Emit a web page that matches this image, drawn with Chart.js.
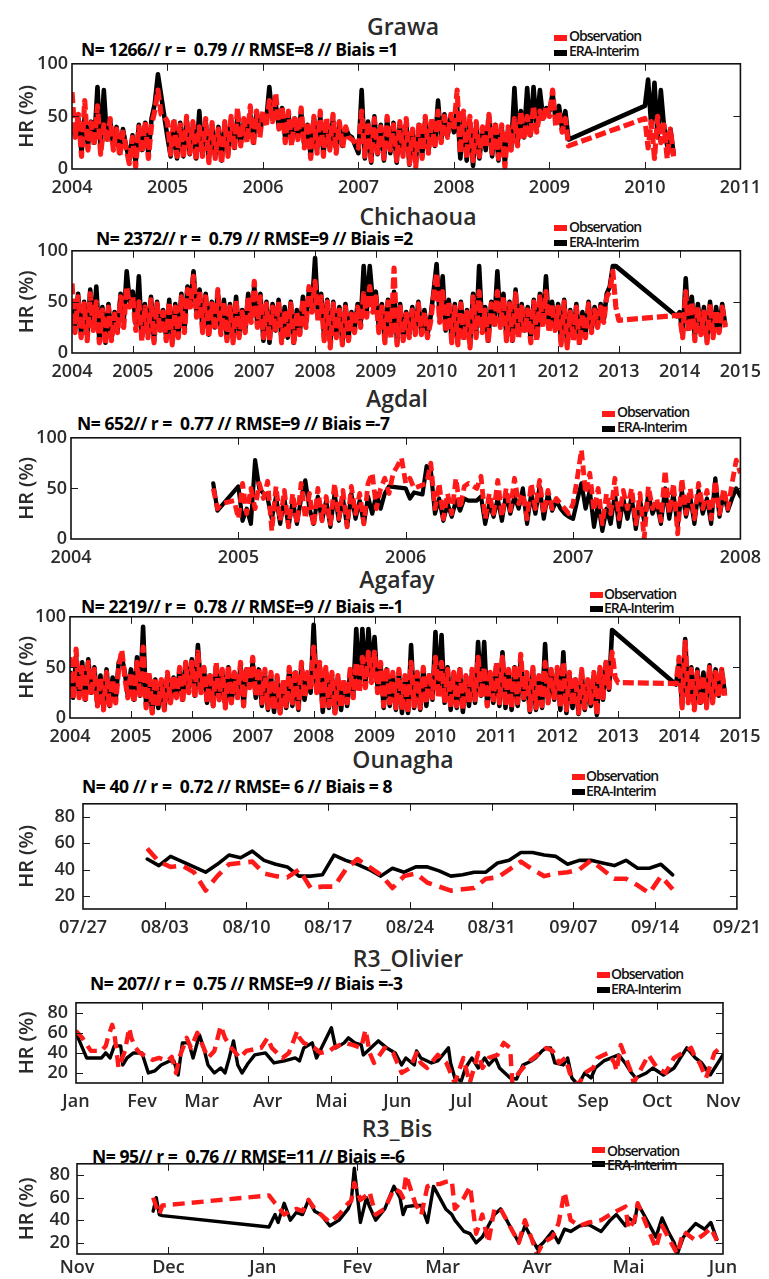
<!DOCTYPE html>
<html><head><meta charset="utf-8">
<script src="https://cdn.jsdelivr.net/npm/chart.js@4.4.1/dist/chart.umd.min.js"></script>
<style>
html,body{margin:0;padding:0;background:#fff;}
#wrap{position:relative;width:769px;height:1279px;overflow:hidden;font-family:'Open Sans',sans-serif;color:#262626;}
canvas{position:absolute;left:0;}
.ttl{position:absolute;font-size:23px;font-weight:600;transform:translateX(-50%);white-space:pre;line-height:1;color:#2b2b2b;}
.st{position:absolute;font-size:17.5px;font-weight:700;white-space:pre;line-height:1;letter-spacing:-0.45px;color:#000;}
.lg{position:absolute;font-size:14px;font-weight:600;white-space:pre;line-height:1;letter-spacing:-1px;color:#111;}
.mk{position:absolute;width:13px;height:6px;}
</style></head>
<body><div id="wrap">
<div class="ttl" style="left:403px;top:15px">Grawa</div>
<div class="st" style="left:81px;top:41px">N= 1266// r =  0.79 // RMSE=8 // Biais =1</div>
<div class="mk" style="left:554px;top:35px;background:#ff1a1a"></div><div class="lg" style="left:569px;top:29px">Observation</div>
<div class="mk" style="left:554px;top:50px;background:#000"></div><div class="lg" style="left:569px;top:44px">ERA-Interim</div>

<div class="ttl" style="left:418px;top:205px">Chichaoua</div>
<div class="st" style="left:96px;top:230px">N= 2372// r =  0.79 // RMSE=9 // Biais =2</div>
<div class="mk" style="left:554px;top:225px;background:#ff1a1a"></div><div class="lg" style="left:569px;top:220px">Observation</div>
<div class="mk" style="left:554px;top:240px;background:#000"></div><div class="lg" style="left:569px;top:235px">ERA-Interim</div>

<div class="ttl" style="left:397px;top:387px">Agdal</div>
<div class="st" style="left:77px;top:415px">N= 652// r =  0.77 // RMSE=9 // Biais =-7</div>
<div class="mk" style="left:602px;top:411px;background:#ff1a1a"></div><div class="lg" style="left:617px;top:405px">Observation</div>
<div class="mk" style="left:602px;top:426px;background:#000"></div><div class="lg" style="left:617px;top:420px">ERA-Interim</div>

<div class="ttl" style="left:397px;top:568px">Agafay</div>
<div class="st" style="left:81px;top:598px">N= 2219// r =  0.78 // RMSE=9 // Biais =-1</div>
<div class="mk" style="left:590px;top:592px;background:#ff1a1a"></div><div class="lg" style="left:604px;top:587px">Observation</div>
<div class="mk" style="left:590px;top:606px;background:#000"></div><div class="lg" style="left:604px;top:601px">ERA-Interim</div>

<div class="ttl" style="left:403px;top:748px">Ounagha</div>
<div class="st" style="left:82px;top:778px">N= 40 // r =  0.72 // RMSE= 6 // Biais = 8</div>
<div class="mk" style="left:572px;top:774px;background:#ff1a1a"></div><div class="lg" style="left:586px;top:769px">Observation</div>
<div class="mk" style="left:572px;top:789px;background:#000"></div><div class="lg" style="left:586px;top:784px">ERA-Interim</div>

<div class="ttl" style="left:408px;top:947px">R3_Olivier</div>
<div class="st" style="left:90px;top:975px">N= 207// r =  0.75 // RMSE=9 // Biais =-3</div>
<div class="mk" style="left:597px;top:972px;background:#ff1a1a"></div><div class="lg" style="left:611px;top:967px">Observation</div>
<div class="mk" style="left:597px;top:987px;background:#000"></div><div class="lg" style="left:611px;top:982px">ERA-Interim</div>

<div class="ttl" style="left:397px;top:1117px">R3_Bis</div>
<div class="st" style="left:92px;top:1148px">N= 95// r =  0.76 // RMSE=11 // Biais =-6</div>
<div class="mk" style="left:592px;top:1147px;background:#ff1a1a"></div><div class="lg" style="left:607px;top:1144px">Observation</div>
<div class="mk" style="left:592px;top:1161px;background:#000"></div><div class="lg" style="left:607px;top:1158px">ERA-Interim</div>
</div>
<script>
// ---------------- DATA ----------------
// Grawa: samples every 1/30 year from 2004.0
const grawaStart = 2004, grawaRate = 30;
const grawaObs = [
73,30,52,12,65,18,44,22,60,14,42,25,48,18,38,12,35,20,5,30,2,40,15,45,10,42,55,75,52,50,
45,14,48,12,42,10,50,15,45,8,40,12,48,6,44,10,38,5,45,12,50,18,58,22,48,25,60,22,55,30,
55,40,65,45,72,38,60,25,55,22,50,28,58,20,45,10,50,15,55,12,48,18,52,15,45,20,40,30,28,25,
20,55,12,45,8,48,15,40,10,50,18,42,8,45,12,48,5,38,2,44,10,50,15,48,20,55,25,50,30,52,
40,75,15,55,10,50,8,45,12,40,20,52,15,45,10,42,2,40,18,48,22,55,28,50,30,60,35,55,45,60,
50,75,40,55,35,48,22,null,null,null,null,null,null,null,null,null,null,null,null,null,null,null,null,null,null,null,null,null,null,null,
48,20,45,10,50,25,42,10,38,12];
const grawaEra = [
40,32,48,15,50,22,45,25,78,20,75,28,45,22,40,15,38,22,8,32,6,42,18,44,14,48,62,90,null,null,
30,12,45,10,44,12,48,14,42,10,55,14,46,8,42,12,40,8,44,14,48,20,50,24,45,28,52,25,55,35,
50,45,78,48,62,40,58,28,52,25,48,30,55,22,42,12,48,18,50,14,45,20,48,18,42,22,38,32,30,22,
15,75,10,45,6,50,14,42,8,48,15,44,6,42,14,45,4,36,6,42,12,48,18,45,22,65,28,52,32,50,
35,60,10,50,8,45,3,42,10,38,18,50,12,42,8,40,6,38,20,77,25,55,30,77,32,78,40,75,48,58,
55,72,45,60,38,55,28,null,null,null,null,null,null,null,null,null,null,null,null,null,null,null,null,null,null,null,null,null,null,null,
60,85,40,82,30,75,40,22,38,15];

// Chichaoua: samples every 1/20 year from 2004.0
const chiStart = 2004, chiRate = 20;
const chiObs = [
68,20,55,15,48,12,58,22,50,10,42,8,45,12,38,20,55,25,65,45,
55,22,50,12,45,15,52,10,48,20,40,12,50,8,45,15,55,20,62,45,
75,35,60,20,55,15,48,22,62,18,50,12,45,10,52,15,40,20,55,30,
70,25,55,15,48,12,45,20,50,10,42,15,48,8,40,18,52,25,65,40,
70,30,55,12,50,5,48,15,42,8,45,12,38,20,45,25,58,35,65,40,
55,20,45,10,50,15,83,8,45,12,38,15,42,18,48,18,40,15,30,55,
78,30,60,20,50,10,45,8,48,12,40,5,55,15,60,20,42,10,48,25,
60,25,55,12,48,10,58,15,45,20,42,10,50,12,55,25,60,20,48,22,
45,8,50,5,40,12,45,8,38,15,48,20,42,25,45,30,55,60,80,45,
32,null,null,null,null,null,null,null,null,null,null,null,null,null,null,null,null,null,null,null,
37,15,60,20,50,12,45,18,40,10,48,15,42,20,45,25];
const chiEra = [
45,25,58,18,50,15,62,25,65,12,45,10,48,15,40,22,58,30,80,50,
60,28,75,15,48,18,55,12,50,22,42,15,52,10,48,18,58,22,65,50,
80,40,62,22,58,18,50,25,60,20,52,14,48,12,55,18,42,22,58,35,
65,28,58,12,50,10,48,22,52,12,45,15,50,10,42,20,55,28,62,45,
93,35,58,15,52,8,50,18,45,10,48,15,40,22,48,28,85,40,85,50,
60,25,48,12,52,18,60,10,48,15,40,18,45,20,50,20,42,18,35,60,
87,35,75,22,52,12,48,10,50,15,42,8,58,18,85,25,45,12,50,28,
80,30,58,15,50,12,62,18,48,22,45,12,52,15,58,30,75,25,50,25,
48,10,52,8,42,15,48,10,40,18,50,22,45,28,48,32,58,65,85,85,
null,null,null,null,null,null,null,null,null,null,null,null,null,null,null,null,null,null,null,36,
40,18,73,25,55,15,48,20,45,12,50,18,45,22,48,28];

// Agdal: samples every 1/40 year from 2004.85
const agdalStart = 2004.85, agdalRate = 40;
const agdalObs = [
50,30,35,36,37,38,20,55,25,50,30,55,40,57,8,52,18,48,12,45,
15,55,20,45,12,50,18,42,15,55,20,48,12,52,25,45,15,55,65,30,
50,60,45,65,72,80,55,60,50,null,null,55,75,30,55,20,45,25,60,30,
52,55,null,50,62,20,45,25,58,22,50,28,60,35,45,20,55,30,58,25,
48,30,40,35,30,25,35,60,88,45,65,28,50,15,45,25,60,20,48,30,
50,15,45,0,52,30,40,18,68,25,55,5,60,25,50,20,55,30,48,20,
58,25,50,30,55,78,65];
const agdalEra = [
55,28,null,null,null,null,52,18,30,15,78,50,45,40,20,42,15,40,12,38,
15,40,58,30,15,42,18,38,12,45,18,40,12,45,20,38,15,42,25,45,
30,45,52,null,null,null,50,40,46,null,44,72,68,25,40,18,35,22,38,28,
40,38,null,38,42,15,35,22,40,18,45,25,42,30,50,15,45,25,52,20,
45,28,38,30,25,22,20,38,55,30,48,12,35,8,30,15,45,12,40,20,
42,10,38,18,45,25,35,15,50,20,45,12,48,22,42,15,48,25,40,15,
60,22,45,28,40,50,42];

// Agafay: samples every 1/20 year from 2004.0
const agaStart = 2004, agaRate = 20;
const agaObs = [
60,18,68,20,50,15,55,22,48,12,40,8,45,10,38,15,50,67,40,20,
45,15,55,20,70,10,45,5,40,12,38,8,45,15,42,20,50,15,55,25,
55,20,65,25,50,15,45,12,55,18,48,10,52,15,45,20,55,12,50,30,
60,22,50,15,48,10,45,8,42,5,38,12,50,15,48,10,55,20,45,28,
70,25,55,8,50,12,45,5,42,10,38,15,48,20,55,25,60,30,65,35,
65,25,55,12,50,15,45,10,48,8,42,5,55,12,45,10,50,15,45,20,
60,20,55,15,48,10,45,12,50,8,42,15,48,18,60,20,50,12,45,18,
55,15,60,12,48,10,52,15,63,20,45,8,50,10,42,12,55,15,48,20,
50,10,55,8,45,12,40,5,48,10,38,15,45,3,50,20,55,30,65,40,
35,null,null,null,null,null,null,null,null,null,null,null,null,null,null,null,null,null,null,34,
60,10,75,15,48,8,45,12,42,10,50,15,45,20,48,22];
const agaEra = [
45,20,60,22,55,18,58,25,50,12,42,10,48,12,40,18,55,60,45,22,
48,18,60,22,90,12,42,5,38,10,35,8,42,15,40,22,48,18,55,28,
58,22,72,28,48,15,42,12,52,20,45,10,50,15,42,20,52,12,48,32,
55,20,48,12,45,8,42,6,40,5,35,10,48,12,45,8,52,18,42,25,
92,28,52,6,48,10,42,5,40,8,35,12,45,22,88,30,88,35,88,45,
80,30,52,10,48,12,42,8,45,5,40,5,72,10,45,8,48,12,42,18,
85,25,82,15,50,8,42,10,48,6,40,12,45,15,75,22,75,12,42,15,
52,12,65,10,45,8,50,12,58,18,42,6,48,8,40,10,73,15,45,18,
48,8,65,5,42,10,38,4,45,8,35,12,42,3,48,18,55,28,87,null,
null,null,null,null,null,null,null,null,null,null,null,null,null,null,null,null,null,null,null,33,
55,12,78,18,50,10,48,15,45,12,52,18,48,22,48,25];

// Ounagha: day offsets from 07/27 (daily values, mid-day)
const ounDays = [5.5,6.5,7.5,8.5,9.5,10.5,11.5,12.5,13.5,14.5,15.5,16.5,17.5,18.5,19.5,20.5,21.5,22.5,23.5,24.5,25.5,26.5,27.5,28.5,29.5,30.5,31.5,32.5,33.5,34.5,35.5,36.5,37.5,38.5,39.5,40.5,41.5,42.5,43.5,44.5,45.5,46.5,47.5,48.5,49.5,50.5];
const ounObs = [56,46,42,43,38,24,35,44,45,46,37,35,34,40,26,27,27,40,48,42,36,26,35,37,30,27,24,25,26,33,34,40,46,40,35,37,38,40,47,40,33,33,28,22,35,25];
const ounEra = [48,43,50,46,42,38,44,51,49,54,47,44,42,35,35,36,51,47,44,40,35,41,38,42,42,39,35,36,38,38,45,47,53,53,51,50,44,47,47,45,43,47,41,41,44,36];
const ounTickLabels = ['07/27','08/03','08/10','08/17','08/24','08/31','09/07','09/14','09/21'];

// R3_Olivier: day offsets from Jan 1
const olivEraDays = [0,5,9,12,14,16,18,21,22,24,27,31,34,37,40,44,46,48,50,53,55,58,60,62,65,68,70,72,74,76,78,81,84,89,93,98,103,105,107,111,113,120,122,126,128,131,134,135,142,146,150,153,155,159,160,162,167,170,175,176,178,181,183,186,189,192,194,197,199,204,207,210,214,216,219,221,223,225,229,231,233,236,239,242,244,248,255,258,261,263,268,271,276,281,284,287,291,294,298,304];
const olivEra = [60,35,35,35,40,35,47,47,28,35,40,40,20,22,28,32,32,18,50,50,35,58,45,28,20,25,20,35,52,28,20,30,38,40,30,32,35,32,45,50,35,65,45,50,55,50,48,38,52,45,40,28,35,28,42,35,30,32,45,30,15,12,25,35,25,35,28,35,25,15,14,28,32,35,42,45,45,30,28,35,15,8,20,15,25,32,38,30,20,15,20,25,18,25,35,45,35,30,18,38];
const olivObsDays = [0,3,7,12,14,15,17,18,20,23,25,26,28,30,36,39,43,45,47,49,52,54,57,59,62,65,68,70,73,77,80,87,90,92,97,100,104,105,107,112,115,119,121,126,130,134,136,137,138,140,145,149,151,153,157,160,162,165,170,174,178,182,185,189,191,194,198,201,204,205,208,212,215,218,221,224,227,230,232,235,236,239,243,245,250,253,254,256,261,262,269,273,277,281,285,289,291,293,296,300,304];
const olivObs = [62,55,42,42,47,55,68,60,25,42,65,55,45,40,33,35,32,36,20,38,55,45,60,50,35,42,67,55,45,35,42,45,55,45,35,40,62,55,50,45,40,42,45,50,48,45,63,52,40,30,45,40,30,20,25,40,30,25,38,30,10,35,10,40,25,35,38,50,45,10,20,30,35,40,45,42,30,35,20,10,8,20,25,35,40,30,22,48,20,10,38,25,20,35,40,45,35,30,15,40,48];
const olivMonthDays = [0,31,59,90,120,151,181,212,243,273,304];
const olivMonthLabels = ['Jan','Fev','Mar','Avr','Mai','Jun','Jul','Aout','Sep','Oct','Nov'];

// R3_Bis: day offsets from Nov 1
const bisDays = [25,26,27,28,63,65,66,68,70,72,74,76,78,80,83,86,89,90,91,93,95,96,98,101,104,106,107,108,111,113,115,117,119,121,123,124,127,129,131,133,135,137,139,141,143,145,147,149,151,153,156,158,160,162,165,168,172,175,177,180,181,183,184,187,190,192,194,196,197,199,203,206,208,210];
const bisEra = [48,60,45,44,34,45,38,55,40,47,45,58,48,45,35,40,50,57,86,38,60,52,40,50,70,60,45,52,53,53,38,70,60,50,45,40,30,28,20,25,35,45,50,40,30,20,35,25,15,20,30,20,32,30,35,36,30,40,45,35,42,38,55,40,25,42,30,20,10,25,37,32,38,23];
const bisObs = [60,52,45,53,62,55,52,45,48,50,48,58,50,45,38,45,55,57,73,58,62,65,45,50,68,65,60,80,55,45,70,72,72,74,75,50,60,70,28,45,20,50,50,40,30,20,40,25,10,20,25,37,65,40,35,38,40,45,48,52,32,40,55,35,15,35,25,15,10,30,22,28,33,22];
const bisMonthDays = [0,30,61,92,120,151,181,212];
const bisMonthLabels = ['Nov','Dec','Jan','Fev','Mar','Avr','Mai','Jun'];

const yTicksSmall = [20,40,60,80];

// ---------------- RENDER ----------------
const RED = '#ff1a1a';
const FONT = "'Open Sans', sans-serif";
const sampled = (start, rate, vals) => vals.map((v, i) => ({x: start + i / rate, y: v}));
const paired = (xs, vals) => vals.map((v, i) => ({x: xs[i], y: v}));

const framePlugin = {
  id: 'frame',
  afterDatasetsDraw(chart) {
    const {ctx, chartArea: a, scales: {x, y}} = chart;
    ctx.save();
    ctx.strokeStyle = '#1a1a1a';
    ctx.lineWidth = 1;
    const seg = (x1, y1, x2, y2) => { ctx.beginPath(); ctx.moveTo(x1, y1); ctx.lineTo(x2, y2); ctx.stroke(); };
    const tl = 7;
    x.ticks.forEach(t => {
      const px = Math.round(x.getPixelForValue(t.value)) + 0.5;
      if (px <= a.left + 2 || px >= a.right - 2) return;
      seg(px, a.bottom, px, a.bottom - tl); seg(px, a.top, px, a.top + tl);
    });
    y.ticks.forEach(t => {
      const py = Math.round(y.getPixelForValue(t.value)) + 0.5;
      if (py <= a.top + 2 || py >= a.bottom - 2) return;
      seg(a.left, py, a.left + tl, py); seg(a.right, py, a.right - tl, py);
    });
    ctx.lineWidth = 1.6;
    ctx.strokeStyle = '#111';
    ctx.strokeRect(a.left, a.top, a.right - a.left, a.bottom - a.top);
    ctx.restore();
  }
};

function makePanel(p) {
  const padTop = 14, axisH = 34;
  const cv = document.createElement('canvas');
  const h = p.B - p.T + padTop + axisH;
  cv.width = 769; cv.height = h;
  cv.style.top = (p.T - padTop) + 'px';
  cv.style.width = '769px'; cv.style.height = h + 'px';
  document.getElementById('wrap').appendChild(cv);
  const tickFont = {family: FONT, size: 18, weight: '600'};
  new Chart(cv, {
    type: 'line',
    data: {datasets: [
      {data: p.obs, borderColor: RED, borderWidth: p.rw, borderDash: p.dash, borderCapStyle: 'butt', borderJoinStyle: 'round', pointRadius: 0, tension: 0, spanGaps: true, fill: false},
      {data: p.era, borderColor: '#000', borderWidth: p.bw, borderCapStyle: 'round', borderJoinStyle: 'round', pointRadius: 0, tension: 0, spanGaps: true, fill: false}
    ]},
    options: {
      responsive: false, animation: false, devicePixelRatio: 1, events: [],
      parsing: false, normalized: true,
      layout: {padding: {top: padTop, left: 0, right: 769 - p.R, bottom: 0}},
      plugins: {legend: {display: false}, tooltip: {enabled: false}},
      scales: {
        x: {type: 'linear', min: p.xmin, max: p.xmax,
            afterBuildTicks: p.xTicks ? (s) => { s.ticks = p.xTicks.map(v => ({value: v})); } : undefined,
            ticks: {stepSize: p.xstep, autoSkip: false, maxRotation: 0, padding: p.xpad || 8, font: tickFont, color: '#2b2b2b',
                    callback: p.xLabel},
            grid: {display: false, drawTicks: false}, border: {display: false},
            afterFit: (s) => { s.height = axisH; }},
        y: {type: 'linear', min: p.ymin, max: p.ymax,
            afterBuildTicks: p.yTicks ? (s) => { s.ticks = p.yTicks.map(v => ({value: v})); } : undefined,
            ticks: {stepSize: 50, padding: p.ypad, font: tickFont, color: '#2b2b2b', callback: (v) => String(v)},
            grid: {display: false, drawTicks: false}, border: {display: false},
            title: {display: true, text: 'HR (%)', font: {family: FONT, size: 20, weight: '600'}, color: '#2b2b2b', padding: {top: 15, bottom: 0}},
            afterFit: (s) => { s.width = p.L; }}
      }
    },
    plugins: [framePlugin]
  });
}

const yearLabel = (v) => String(v);
const dense = {rw: 5.2, bw: 4.6, dash: [11, 4]};
makePanel(Object.assign({}, dense, {L: 72, T: 63, R: 746, B: 169, xmin: 2004, xmax: 2011, xstep: 1, xLabel: yearLabel, ymin: 0, ymax: 100, ypad: 4,
  obs: sampled(grawaStart, grawaRate, grawaObs), era: sampled(grawaStart, grawaRate, grawaEra)}));
makePanel(Object.assign({}, dense, {L: 72, T: 250, R: 742, B: 353, xmin: 2004, xmax: 2015, xstep: 1, xLabel: yearLabel, ymin: 0, ymax: 100, ypad: 4,
  obs: sampled(chiStart, chiRate, chiObs), era: sampled(chiStart, chiRate, chiEra)}));
makePanel({L: 71, T: 437, R: 741, B: 539, xmin: 2004, xmax: 2008, xstep: 1, xLabel: yearLabel, ymin: 0, ymax: 100, ypad: 4, rw: 4.8, bw: 4.2, dash: [10, 5],
  obs: sampled(agdalStart, agdalRate, agdalObs), era: sampled(agdalStart, agdalRate, agdalEra)});
makePanel(Object.assign({}, dense, {L: 70, T: 616, R: 740, B: 718, xmin: 2004, xmax: 2015, xstep: 1, xLabel: yearLabel, ymin: 0, ymax: 100, ypad: 4,
  obs: sampled(agaStart, agaRate, agaObs), era: sampled(agaStart, agaRate, agaEra)}));
makePanel({L: 83, T: 799, R: 740, B: 909, xmin: 0, xmax: 56, xstep: 7, xLabel: (v) => ounTickLabels[Math.round(v / 7)],
  ymin: 10, ymax: 90, yTicks: yTicksSmall, ypad: 8, rw: 4.6, bw: 3.6, dash: [14, 8],
  obs: paired(ounDays, ounObs), era: paired(ounDays, ounEra)});
makePanel({L: 76, T: 998, R: 723, B: 1083, xmin: 0, xmax: 304, xTicks: olivMonthDays, xLabel: (v, i) => olivMonthLabels[i],
  ymin: 10, ymax: 90, yTicks: yTicksSmall, ypad: 8, rw: 4.4, bw: 3.4, dash: [12, 7],
  obs: paired(olivObsDays, olivObs), era: paired(olivEraDays, olivEra)});
makePanel({L: 77, T: 1160, R: 723, B: 1254, xmin: 0, xmax: 212, xTicks: bisMonthDays, xLabel: (v, i) => bisMonthLabels[i], xpad: 3,
  ymin: 10, ymax: 90, yTicks: yTicksSmall, ypad: 7, rw: 4.4, bw: 3.4, dash: [12, 7],
  obs: paired(bisDays, bisObs), era: paired(bisDays, bisEra)});
</script>
</body></html>
